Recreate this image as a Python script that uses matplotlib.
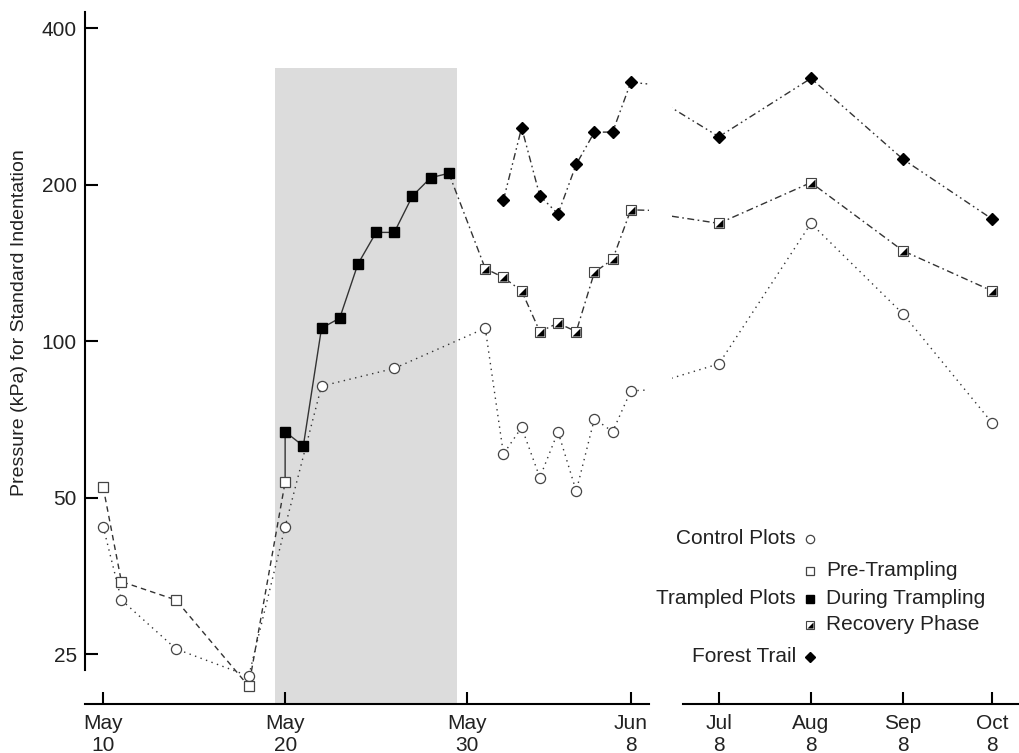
import matplotlib
matplotlib.use("Agg")
import matplotlib.pyplot as plt

plt.rcParams["font.family"] = ["Liberation Sans", "DejaVu Sans"]

# day of year (May 10 = 130, Jun 8 = 159, Jul 8 = 189, ...)
control_days = [130, 131, 134, 138, 140, 142, 146, 151, 152, 153, 154, 155, 156, 157, 158, 159,
                189, 220, 251, 281]
control_vals = [44.0, 31.8, 25.6, 22.7, 44.0, 82.0, 88.7, 106.0, 60.7, 68.3, 54.7, 67.0, 51.5,
                71.0, 67.0, 80.3, 90.5, 168.6, 112.9, 69.7]

pre_days = [130, 131, 134, 138, 140]
pre_vals = [52.4, 34.5, 31.8, 21.7, 53.6]

during_days = [140, 141, 142, 143, 144, 145, 146, 147, 148, 149]
during_vals = [67.0, 62.9, 106.0, 110.8, 140.8, 162.0, 162.0, 190.4, 206.4, 210.5]

recovery_days = [151, 152, 153, 154, 155, 156, 157, 158, 159, 189, 220, 251, 281]
recovery_vals = [138.0, 132.7, 125.0, 104.4, 108.4, 104.4, 135.8, 143.7, 179.0, 168.6, 202.0,
                 149.3, 125.0]

forest_days = [152, 153, 154, 155, 156, 157, 158, 159, 189, 220, 251, 281]
forest_vals = [187.0, 257.6, 190.5, 175.8, 219.0, 252.6, 252.6, 315.0, 247.5, 320.5, 224.0, 171.9]

trample_start, trample_end, shade_top = 139.45, 149.45, 335

left_ticks = [130, 140, 150, 159]
left_labels = ["May\n10", "May\n20", "May\n30", "Jun\n8"]
right_ticks = [189, 220, 251, 281]
right_labels = ["Jul\n8", "Aug\n8", "Sep\n8", "Oct\n8"]
y_ticks = [25, 50, 100, 200, 400]

W, H = 1020, 753
fig = plt.figure(figsize=(W / 100, H / 100), dpi=100)


def box(x0, y0, x1, y1):
    return [x0 / W, 1 - y1 / H, (x1 - x0) / W, (y1 - y0) / H]


ax1 = fig.add_axes(box(85, 12, 649, 704))
ax2 = fig.add_axes(box(672, 12, 1020, 704))

lc = "#333333"
tri = [(-1, -1), (1, -1), (1, 1)]


def half_square(ax, x, y, ms, **kw):
    ax.plot(x, y, ls="none", marker="s", ms=ms, mfc="white", mec="#444444", mew=0.8, **kw)
    ax.plot(x, y, ls="none", marker=tri, ms=ms - 1, mfc="black", mec="none", **kw)


for ax in (ax1, ax2):
    ax.set_yscale("log")
    ax.plot(control_days, control_vals, color=lc, lw=1, ls=(0, (1, 3.2)), zorder=2)
    ax.plot(pre_days, pre_vals, color=lc, lw=1, ls=(0, (4, 3)), zorder=2)
    ax.plot([pre_days[-1]] + during_days, [pre_vals[-1]] + during_vals, color=lc, lw=1, zorder=2)
    ax.plot([during_days[-1]] + recovery_days, [during_vals[-1]] + recovery_vals,
            color=lc, lw=1, ls=(0, (5, 2.5, 1.2, 2.5)), zorder=2)
    ax.plot(forest_days, forest_vals, color=lc, lw=1, ls=(0, (5, 2.5, 1.2, 2.5, 1.2, 2.5)), zorder=2)

    ax.plot(control_days, control_vals, ls="none", marker="o", ms=7.3, mfc="white", mec="#444444",
            mew=0.9, zorder=3)
    ax.plot(pre_days, pre_vals, ls="none", marker="s", ms=7, mfc="white", mec="#444444",
            mew=0.9, zorder=3)
    ax.plot(during_days, during_vals, ls="none", marker="s", ms=7, mfc="black", mec="black",
            zorder=3)
    half_square(ax, recovery_days, recovery_vals, 7, zorder=3)
    ax.plot(forest_days, forest_vals, ls="none", marker="D", ms=6.5, mfc="black", mec="black",
            zorder=3)

    ax.set_ylim(20.06, 430)
    for s in ("top", "right"):
        ax.spines[s].set_visible(False)
    ax.spines["bottom"].set_linewidth(1.5)
    ax.tick_params(axis="x", direction="in", length=9, width=1.5, pad=7.5, labelsize=15,
                   labelcolor="#222222")
    ax.minorticks_off()

ax1.fill_between([trample_start, trample_end], 20.06, shade_top, color="#dcdcdc", lw=0, zorder=0)
ax1.set_xlim(129.0, 160.0)
ax1.set_xticks(left_ticks)
ax1.set_xticklabels(left_labels, linespacing=1.15)
ax1.set_yticks(y_ticks)
ax1.set_yticklabels([str(v) for v in y_ticks])
ax1.tick_params(axis="y", direction="in", length=9, width=1.5, pad=6, labelsize=15,
                labelcolor="#222222", which="both")
ax1.minorticks_off()
ax1.spines["left"].set_linewidth(1.5)
ax1.spines["left"].set_bounds(23.3, 430)

ax2.set_xlim(173.2, 290.4)
ax2.set_xticks(right_ticks)
ax2.set_xticklabels(right_labels, linespacing=1.15)
ax2.spines["left"].set_visible(False)
ax2.spines["bottom"].set_bounds(176.9, 290.4)
ax2.set_yticks([])
ax2.minorticks_off()
ax2.tick_params(axis="y", which="both", left=False, labelleft=False)

fig.text(20 / W, 1 - 323 / H, "Pressure (kPa) for Standard Indentation", rotation=90,
         ha="center", va="center", fontsize=14, color="#222222")

# legend built by hand
def fx(x):
    return x / W


def fy(y):
    return 1 - y / H


mx = 810
fig.text(fx(796), fy(539), "Control Plots", ha="right", va="center", fontsize=15, color="#222222")
fig.text(fx(796), fy(599), "Trampled Plots", ha="right", va="center", fontsize=15, color="#222222")
fig.text(fx(796), fy(657), "Forest Trail", ha="right", va="center", fontsize=15, color="#222222")
fig.text(fx(826), fy(571), "Pre-Trampling", ha="left", va="center", fontsize=15, color="#222222")
fig.text(fx(826), fy(599), "During Trampling", ha="left", va="center", fontsize=15, color="#222222")
fig.text(fx(826), fy(625), "Recovery Phase", ha="left", va="center", fontsize=15, color="#222222")

lk = dict(transform=fig.transFigure, clip_on=False, ls="none", zorder=5)
ax2.plot([fx(mx)], [fy(539)], marker="o", ms=6, mfc="white", mec="#444444", mew=0.9, **lk)
ax2.plot([fx(mx)], [fy(571)], marker="s", ms=5.5, mfc="white", mec="#444444", mew=0.9, **lk)
ax2.plot([fx(mx)], [fy(599)], marker="s", ms=5.5, mfc="black", mec="black", **lk)
ax2.plot([fx(mx)], [fy(625)], marker="s", ms=5.5, mfc="white", mec="#444444", mew=0.8, **lk)
ax2.plot([fx(mx)], [fy(625)], marker=tri, ms=4.5, mfc="black", mec="none", **lk)
ax2.plot([fx(mx)], [fy(657)], marker="D", ms=5, mfc="black", mec="black", **lk)

fig.savefig("out.png", dpi=100)
